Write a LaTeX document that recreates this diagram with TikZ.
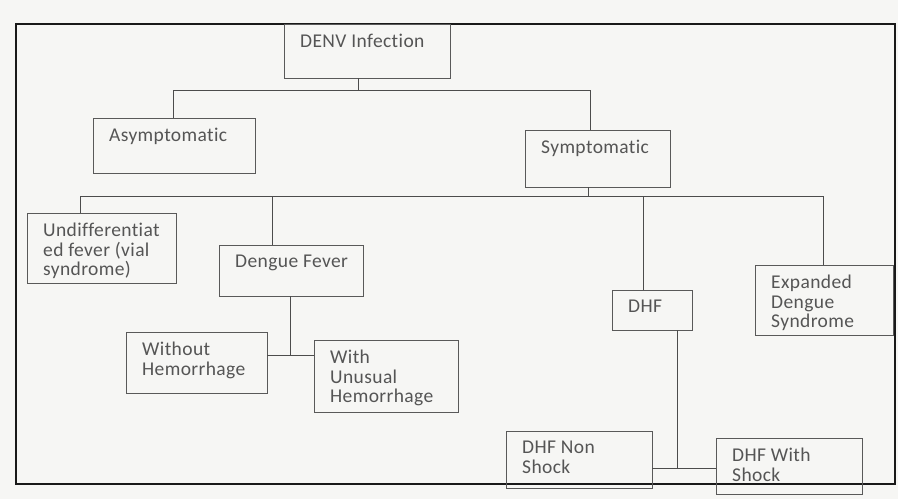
\documentclass[tikz,border=0pt]{standalone}
\usepackage{fontspec}
\setmainfont[LetterSpace=2,Ligatures=NoCommon]{Carlito}
\definecolor{paper}{RGB}{246,246,244}
\definecolor{ink}{RGB}{85,85,85}
\newcommand\dbox[6]{\node[box, minimum width={(#4-#2)*1pt}, minimum height={(#5-#3)*1pt}, label={[lbl]north west:#6}] (#1) at ({(#2+#4)/2},{(#3+#5)/2}) {};}
\begin{document}
\begin{tikzpicture}[x=1pt,y=-1pt,
  box/.style={draw=black!65, line width=0.9pt, inner sep=0pt, outer sep=0pt},
  lbl/.style={anchor=north west, inner xsep=16pt, inner ysep=10pt, align=left,
    font=\fontsize{19.5}{19.5}\selectfont, text=ink},
  conn/.style={draw=black!70, line width=1pt},
  frame/.style={draw=black!90, line width=2pt}]
\fill[paper] (0,0) rectangle (898,499);
\useasboundingbox (0,0) rectangle (898,499);
\draw[frame] (16,24) rectangle (895,484);
% boxes
\dbox{denv}{284}{24}{450}{78}{DENV Infection}
\dbox{asym}{93}{118}{255}{173}{Asymptomatic}
\dbox{sym}{525}{130}{670}{187}{Symptomatic}
\dbox{undiff}{27}{213}{176}{283}{Undifferentiat\\ed fever (vial\\syndrome)}
\dbox{df}{219}{245}{363}{296}{Dengue Fever}
\dbox{dhf}{612}{290}{692}{330}{DHF}
\dbox{eds}{755}{265}{893}{335}{Expanded\\Dengue\\Syndrome}
\dbox{without}{126}{332}{267}{393}{Without\\Hemorrhage}
\dbox{with}{314}{340}{458}{412}{With\\Unusual\\Hemorrhage}
\dbox{nonshock}{506}{431}{652}{488}{DHF Non\\Shock}
\dbox{shock}{716}{438}{862}{494}{DHF With\\Shock}
% level 1 connectors
\coordinate (b1m) at (358,90);
\coordinate (b1l) at (173,90);
\coordinate (b1r) at (590,90);
\draw[conn] (denv.south -| b1m) -- (b1m);
\draw[conn] (b1l) -- (b1r);
\draw[conn] (b1l) -- (b1l |- asym.north);
\draw[conn] (b1r) -- (b1r |- sym.north);
% level 2 connectors
\coordinate (b2m) at (588,196);
\coordinate (b2a) at (80,196);
\coordinate (b2b) at (272,196);
\coordinate (b2c) at (643,196);
\coordinate (b2d) at (823,196);
\draw[conn] (sym.south -| b2m) -- (b2m);
\draw[conn] (b2a) -- (b2d);
\draw[conn] (b2a) -- (b2a |- undiff.north);
\draw[conn] (b2b) -- (b2b |- df.north);
\draw[conn] (b2c) -- (b2c |- dhf.north);
\draw[conn] (b2d) -- (b2d |- eds.north);
% dengue fever split
\coordinate (dfj) at (290,355);
\draw[conn] (df.south -| dfj) -- (dfj);
\draw[conn] (without.east |- dfj) -- (with.west |- dfj);
% DHF split
\coordinate (dhfj) at (677,468);
\draw[conn] (dhf.south -| dhfj) -- (dhfj);
\draw[conn] (nonshock.east |- dhfj) -- (shock.west |- dhfj);
\end{tikzpicture}
\end{document}
